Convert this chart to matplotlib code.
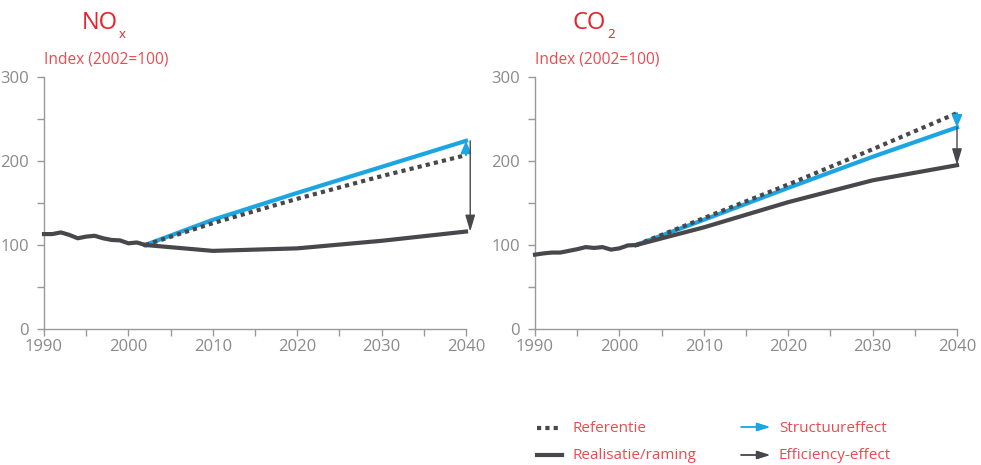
import numpy as np
import matplotlib
matplotlib.use('Agg')
import matplotlib.pyplot as plt
from matplotlib.lines import Line2D

plt.rcParams['font.family'] = ['Open Sans', 'DejaVu Sans']

# data
hist_years = [1990, 1991, 1992, 1993, 1994, 1995, 1996, 1997, 1998, 1999, 2000, 2001, 2002]
proj_years = [2002, 2010, 2020, 2030, 2040]

nox_hist = [113, 113, 115, 112, 108, 110, 111, 108, 106, 105.5, 102, 103, 100]
nox_real = [100, 93, 96, 105, 116]
nox_ref = [100, 126, 155, 182, 207]
nox_struct = [100, 130, 162, 193, 224]

co2_hist = [88.5, 90, 91, 91, 93, 95, 97.5, 96.5, 97.5, 94.5, 96, 99.5, 100]
co2_real = [100, 121, 151, 177, 195]
co2_ref = [100, 132, 172, 214, 257]
co2_struct = [100, 130, 168, 205, 240]

RED = '#e8202a'
RED_LIGHT = '#ec4a50'
DARK = '#48484c'
BLUE = '#1ba5e2'
GRAY = '#999999'
TICKGRAY = '#8a8a8a'

fig = plt.figure(figsize=(9.81, 4.65), dpi=100)
ax1 = fig.add_axes([44/981, 1-329/465, 422/981, 252/465])
ax2 = fig.add_axes([535/981, 1-329/465, 422/981, 252/465])


def draw(ax, hist, real, ref, struct, eff_dx):
    ax.plot(hist_years, hist, color=DARK, lw=3, solid_joinstyle='round', zorder=3)
    ax.plot(proj_years, real, color=DARK, lw=3, solid_joinstyle='round', zorder=3)
    ax.plot(proj_years, struct, color=BLUE, lw=3, zorder=2)
    ax.plot(proj_years, ref, color=DARK, lw=3, linestyle=(0, (1, 1)), zorder=4)
    # structure effect arrow: ref -> struct
    ax.annotate('', xy=(proj_years[-1], struct[-1]), xytext=(proj_years[-1], ref[-1]),
                annotation_clip=False,
                arrowprops=dict(arrowstyle='-|>,head_length=0.7,head_width=0.3',
                                color=BLUE, lw=1.5, shrinkA=0, shrinkB=0), zorder=5)
    # efficiency effect arrow: struct -> real
    ax.annotate('', xy=(proj_years[-1] + eff_dx, real[-1]),
                xytext=(proj_years[-1] + eff_dx, struct[-1]),
                annotation_clip=False,
                arrowprops=dict(arrowstyle='-|>,head_length=1.0,head_width=0.3',
                                color=DARK, lw=1, shrinkA=0, shrinkB=0), zorder=5)
    ax.set_xlim(1990, 2040)
    ax.set_ylim(0, 300)
    ax.set_xticks(range(1990, 2041, 10))
    ax.set_xticks(range(1995, 2040, 10), minor=True)
    ax.set_yticks([0, 100, 200, 300])
    ax.set_yticks([50, 150, 250], minor=True)
    for s in ['top', 'right']:
        ax.spines[s].set_visible(False)
    for s in ['left', 'bottom']:
        ax.spines[s].set_color(GRAY)
        ax.spines[s].set_linewidth(1)
    ax.tick_params(which='both', direction='out', length=5, color=GRAY, width=1,
                   labelcolor=TICKGRAY, labelsize=12)
    ax.tick_params(axis='x', pad=2)
    ax.tick_params(axis='y', pad=6)
    for l in ax.lines:
        l.set_clip_on(False)


draw(ax1, nox_hist, nox_real, nox_ref, nox_struct, 0.5)
draw(ax2, co2_hist, co2_real, co2_ref, co2_struct, 0.0)

# titles
fig.text(82/981, 1-23/465, 'NO', color=RED, fontsize=17, va='center')
fig.text(119/981, 1-34/465, 'x', color=RED, fontsize=9.5, va='center')
fig.text(573/981, 1-23/465, 'CO', color=RED, fontsize=17, va='center')
fig.text(607/981, 1-34/465, '2', color=RED, fontsize=9.5, va='center')
fig.text(44/981, 1-60/465, 'Index (2002=100)', color=RED_LIGHT, fontsize=11.2, va='center')
fig.text(535/981, 1-60/465, 'Index (2002=100)', color=RED_LIGHT, fontsize=11.2, va='center')

# legend
fig.add_artist(Line2D([537/981, 562/981], [1-428/465, 1-428/465], color=DARK, lw=3,
                      linestyle=(0, (1, 1))))
fig.add_artist(Line2D([537/981, 562/981], [1-455/465, 1-455/465], color=DARK, lw=3))
fig.text(573/981, 1-428/465, 'Referentie', color=RED_LIGHT, fontsize=11, va='center')
fig.text(573/981, 1-455/465, 'Realisatie/raming', color=RED_LIGHT, fontsize=11, va='center')
fig.add_artist(plt.annotate('', xy=(770/981, 1-427/465), xytext=(741/981, 1-427/465),
                            xycoords='figure fraction',
                            arrowprops=dict(arrowstyle='-|>,head_length=0.8,head_width=0.25',
                                            color=BLUE, lw=1, shrinkA=0, shrinkB=0)))
fig.add_artist(plt.annotate('', xy=(770/981, 1-455/465), xytext=(741/981, 1-455/465),
                            xycoords='figure fraction',
                            arrowprops=dict(arrowstyle='-|>,head_length=0.8,head_width=0.25',
                                            color=DARK, lw=1, shrinkA=0, shrinkB=0)))
fig.text(779/981, 1-428/465, 'Structuureffect', color=RED_LIGHT, fontsize=11, va='center')
fig.text(779/981, 1-455/465, 'Efficiency-effect', color=RED_LIGHT, fontsize=11, va='center')

fig.savefig('out.png', dpi=100)
